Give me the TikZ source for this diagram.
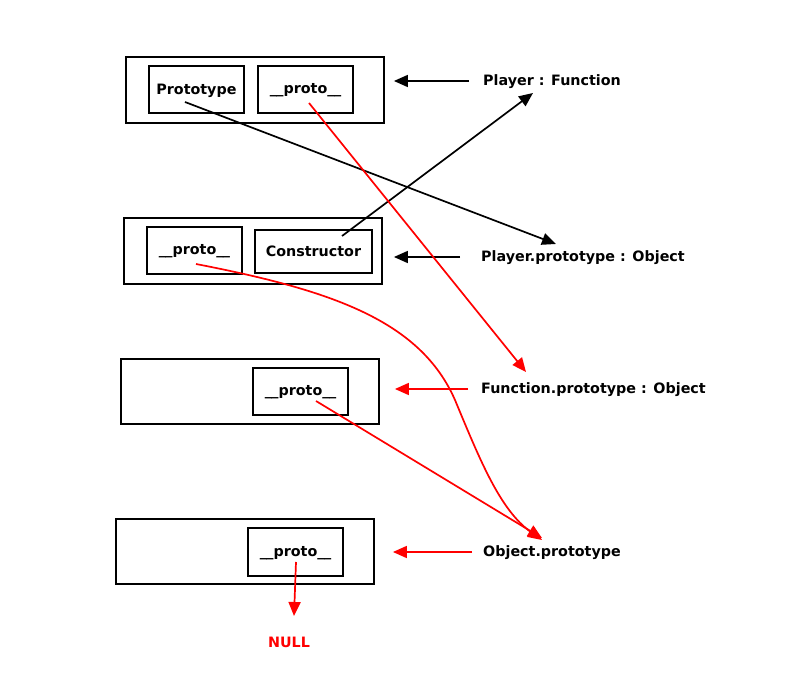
\documentclass[tikz,border=0pt]{standalone}
\usepackage{fontspec}
\setmainfont{DejaVu Sans}
\usetikzlibrary{arrows.meta}
\newcommand{\pr}{\_\kern-0.5pt\_proto\_\kern-0.5pt\_}
\begin{document}
\begin{tikzpicture}[x=1pt,y=-1pt,
  lw/.style={line width=1.9pt},
  box/.style={draw,lw,inner sep=0pt,anchor=north west},
  lab/.style={inner sep=0pt,anchor=west,font=\fontsize{14.3}{16}\selectfont\bfseries},
  intext/.style={font=\fontsize{14.3}{16}\selectfont\bfseries},
  arr/.style={line width=1.7pt,-{Triangle[length=14pt,width=12pt]}},
  redarr/.style={arr,red}]
\useasboundingbox (0,0) rectangle (812,700);
% outer boxes
\node[box,minimum width=258,minimum height=66] (b1) at (125,56) {};
\node[box,minimum width=258,minimum height=66] (b2) at (123,217) {};
\node[box,minimum width=258,minimum height=65] (b3) at (120,358) {};
\node[box,minimum width=258,minimum height=65] (b4) at (115,518) {};
% inner boxes
\node[box,minimum width=95,minimum height=47] (pt) at (148,65) {};
\node[intext] at ([yshift=-1]pt.center) {Prototype};
\node[box,minimum width=95,minimum height=47] (p1) at (257,65) {};
\node[intext] at ([yshift=-1]p1.center) {\pr};
\node[box,minimum width=95,minimum height=47] (p2) at (146,226) {};
\node[intext] at ([yshift=-1]p2.center) {\pr};
\node[box,minimum width=117,minimum height=43] (ct) at (254,229) {};
\node[intext] at (ct.center) {Constructor};
\node[box,minimum width=95,minimum height=47] (p3) at (252,367) {};
\node[intext] at ([yshift=-1]p3.center) {\pr};
\node[box,minimum width=95,minimum height=48] (p4) at (247,527) {};
\node[intext] at ([yshift=-1]p4.center) {\pr};
% labels
\node[lab] (l1) at (483,82) {Player : Function};
\node[lab] (l2) at (481,258) {Player.prototype : Object};
\node[lab] (l3) at (481,390) {Function.prototype : Object};
\node[lab] (l4) at (483,553) {Object.prototype};
\node[lab,text=red,anchor=center] (nl) at (289,642) {NULL};
% label arrows
\draw[arr,shorten <=14pt,shorten >=9pt] ([yshift=1]l1.west) -- ([yshift=1]l1.west -| b1.east);
\draw[arr,shorten <=21pt,shorten >=11pt] ([yshift=1]l2.west) -- ([yshift=1]l2.west -| b2.east);
\draw[redarr,shorten <=13pt,shorten >=15pt] ([yshift=1]l3.west) -- ([yshift=1]l3.west -| b3.east);
\draw[redarr,shorten <=11pt,shorten >=18pt] ([yshift=1]l4.west) -- ([yshift=1]l4.west -| b4.east);
% link coordinates
\coordinate (s1) at (185,102);
\coordinate (e1) at (556,244);
\coordinate (s2) at (342,236);
\coordinate (e2) at (533,93);
\coordinate (s3) at (309,103);
\coordinate (e3) at (526,372);
\coordinate (s4) at (196,264);
\coordinate (m4) at (455,400);
\coordinate (e4) at (542,540);
\coordinate (s5) at (316,401);
\coordinate (e5) at (542,538);
\coordinate (s6) at (296,562);
\coordinate (e6) at (294,616);
% links
\draw[arr] (s1) -- (e1);
\draw[arr] (s2) -- (e2);
\draw[redarr] (s3) -- (e3);
\draw[redarr] (s4) .. controls (330,290) and (420,320) .. (m4) .. controls (480,460) and (500,510) .. (e4);
\draw[redarr] (s5) -- (e5);
\draw[redarr] (s6) -- (e6);
\end{tikzpicture}
\end{document}
